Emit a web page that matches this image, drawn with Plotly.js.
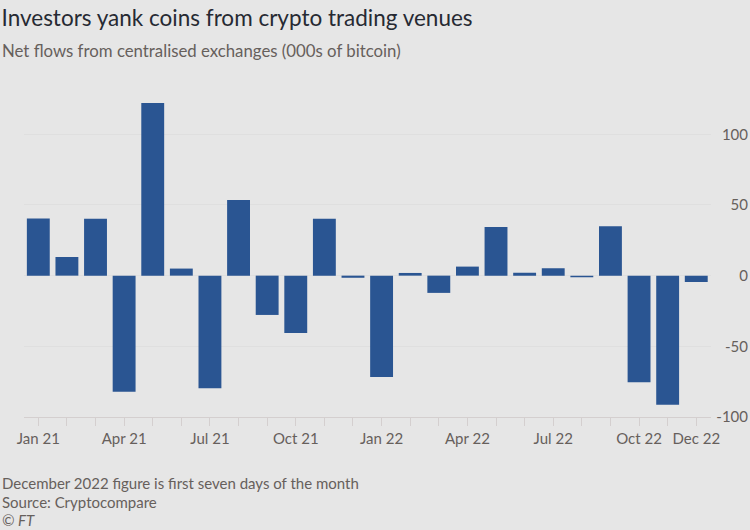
<!DOCTYPE html>
<html>
<head>
<meta charset="utf-8">
<script src="https://cdn.plot.ly/plotly-3.0.1.min.js"></script>
<style>
  html, body { margin: 0; padding: 0; background: #e6e6e6; }
  #chart { width: 750px; height: 530px; }
</style>
</head>
<body>
<div id="chart"></div>
<script>
// Months (categories)
const months = [
  "Jan 21","Feb 21","Mar 21","Apr 21","May 21","Jun 21",
  "Jul 21","Aug 21","Sep 21","Oct 21","Nov 21","Dec 21",
  "Jan 22","Feb 22","Mar 22","Apr 22","May 22","Jun 22",
  "Jul 22","Aug 22","Sep 22","Oct 22","Nov 22","Dec 22"
];
// Net flows from centralised exchanges (000s of bitcoin)
const netFlows = [
  40.5, 13.2, 40.3, -82.2, 122.1, 5.0,
  -79.7, 53.5, -27.8, -40.5, 40.3, -1.5,
  -71.7, 1.9, -12.2, 6.4, 34.4, 2.1,
  5.2, -1.2, 34.9, -75.4, -91.4, -4.5
];
// Labelled x ticks
const xTickLabels = ["Jan 21","Apr 21","Jul 21","Oct 21","Jan 22","Apr 22","Jul 22","Oct 22","Dec 22"];
// Y ticks
const yTickVals = [-100, -50, 0, 50, 100];
const yTickText = ["-100", "-50", "0", "50", "100"];

const titleText = "Investors yank coins from crypto trading venues";
const subtitleText = "Net flows from centralised exchanges (000s of bitcoin)";
const noteText = "December 2022 figure is first seven days of the month";
const sourceText = "Source: Cryptocompare";
const creditText = "© FT";

const FONT = "Lato, 'Open Sans', sans-serif";
const GREY = "#66605c";

const trace = {
  type: "bar",
  x: months,
  y: netFlows,
  marker: { color: "#2a5592", line: { width: 0 } },
  hoverinfo: "x+y"
};

const PH = 530 - 95 - 113;
function py(pix) { return (530 - pix - 113) / PH; }

const layout = {
  width: 750,
  height: 530,
  paper_bgcolor: "#e6e6e6",
  plot_bgcolor: "#e6e6e6",
  margin: { l: 24, r: 2, t: 95, b: 113 },
  bargap: 0.2,
  showlegend: false,
  font: { family: FONT, color: GREY, size: 14 },
  title: {
    text: titleText,
    font: { family: FONT, size: 22.5, color: "#262a33" },
    xref: "container", x: 0.002, xanchor: "left",
    yref: "container", y: 0.966, yanchor: "middle"
  },
  xaxis: {
    type: "category",
    domain: [0, 0.9483],
    range: [-0.5, 23.5],
    tickmode: "array",
    tickvals: months,
    ticktext: months.map(m => xTickLabels.includes(m) ? m : ""),
    ticks: "outside",
    ticklen: 8,
    tickwidth: 1,
    tickcolor: "#d4cfcf",
    showline: true,
    linecolor: "#d4cfcf",
    linewidth: 1,
    showgrid: false,
    zeroline: false,
    tickfont: { family: FONT, size: 15, color: GREY },
    anchor: "y"
  },
  yaxis: {
    range: [-100, 127.8],
    anchor: "free",
    position: 1,
    side: "left",
    tickmode: "array",
    tickvals: yTickVals,
    ticktext: yTickText,
    ticks: "",
    showline: false,
    showgrid: true,
    gridcolor: "#dfdfdf",
    gridwidth: 1,
    zeroline: false,
    tickfont: { family: FONT, size: 15, color: GREY }
  },
  annotations: [
    { text: subtitleText, xref: "paper", yref: "paper", x: -24/724, y: py(51), xanchor: "left", yanchor: "middle", showarrow: false, font: { family: FONT, size: 16.8, color: GREY } },
    { text: noteText, xref: "paper", yref: "paper", x: -24/724, y: py(483), xanchor: "left", yanchor: "middle", showarrow: false, font: { family: FONT, size: 15, color: GREY } },
    { text: sourceText, xref: "paper", yref: "paper", x: -24/724, y: py(502), xanchor: "left", yanchor: "middle", showarrow: false, font: { family: FONT, size: 15, color: GREY } },
    { text: "<i>" + creditText + "</i>", xref: "paper", yref: "paper", x: -24/724, y: py(520), xanchor: "left", yanchor: "middle", showarrow: false, font: { family: FONT, size: 15, color: GREY } }
  ]
};

Plotly.newPlot("chart", [trace], layout, { displayModeBar: false, staticPlot: true });
</script>
</body>
</html>
